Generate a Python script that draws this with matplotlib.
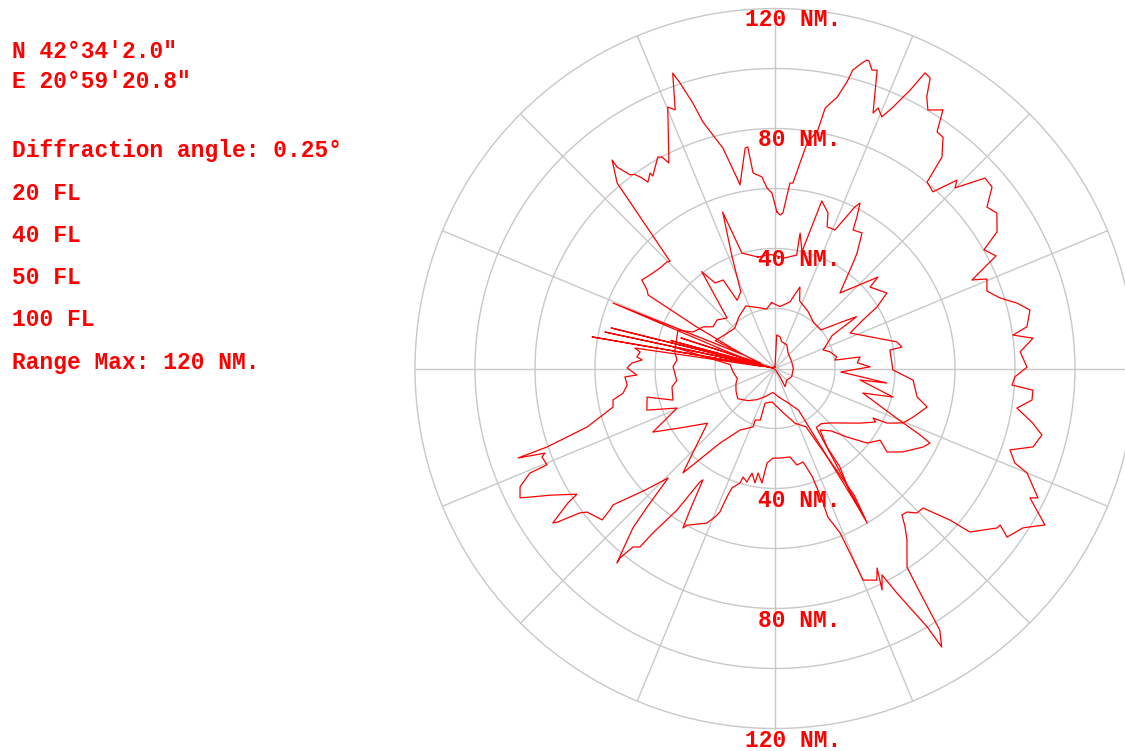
import numpy as np
import matplotlib
matplotlib.use("Agg")
import matplotlib.pyplot as plt

# ---- station and run info ----
lat_text = "N 42°34'2.0\""
lon_text = "E 20°59'20.8\""
diffraction_text = "Diffraction angle: 0.25°"
level_labels = ["20 FL", "40 FL", "50 FL", "100 FL"]
range_max_text = "Range Max: 120 NM."

range_rings = [20, 40, 60, 80, 100, 120]
labelled_rings = [40, 80, 120]
spoke_step = 22.5

# ---- coverage profiles: bearing (deg, clockwise from north) and range (NM) ----
fl20_brg = [0, 2.9, 8.9, 14, 26.5, 41, 67.8, 90, 116, 134.5, 151, 149, 160, 270, 279.0,
            282.1, 283.0, 283.9, 285.0, 359]
fl20_nm = [0.5, 11.2, 10.7, 9.2, 8.8, 6.7, 6.0, 6.1, 6.2, 5.5, 6.9, 3.2, 0.5, 0.5, 1.0,
           58.0, 2.0, 56.3, 1.0, 0.5]

fl40_brg = [357, 4.6, 12.7, 17, 20, 30, 40, 50, 56, 57.6, 60, 69, 73, 79.2, 82, 82.3, 86,
            89, 93, 97.4, 97.7, 103.6, 105.6, 110, 113, 116, 116.8, 118, 122.7, 134.7, 140,
            145, 149, 150.5, 160, 170, 185, 200, 210, 220, 231, 240, 248.6, 255, 265, 275,
            282, 283, 285, 286, 288, 290, 295, 305, 315, 325, 335, 345, 352]
fl40_nm = [22, 20.7, 22.8, 28.4, 24, 22, 20, 20, 28.8, 32.2, 22, 17.2, 19.1, 20.9, 20.2,
           28.6, 27.5, 31.7, 22, 37.6, 28.6, 40.5, 30.4, 38, 46.4, 41.5, 36.6, 38, 33.7,
           25.8, 24, 24, 58, 16, 12, 10, 8, 10, 12, 14, 16, 15, 14, 13, 14, 15,
           35, 3, 36, 3, 33, 5, 22, 20, 19, 21, 23, 21, 20]

fl50_brg = [351.3, 358, 5, 10.8, 10.5, 13, 15.6, 18.8, 20.2, 23.4, 26.3, 27.2, 28.4, 29.4,
            32.7, 35.4, 36.5, 40.7, 48.4, 49.4, 56, 58.9, 61.1, 64.7, 77.7, 80.4, 80.9, 90.7,
            94.8, 101.3, 104.2, 109.4, 113, 114.6, 115.7, 117.9, 123.1, 126.7, 124.3, 129,
            133.6, 138, 143.8, 146.5, 146.6, 148.9, 149.2, 148.0, 152, 160, 170, 185, 196,
            196, 201, 200.6, 209.6, 216.4, 221.4, 231, 238, 242.5, 248, 252, 257.4, 252.8,
            259.8, 263, 271, 275, 279.5, 291.6, 294, 300, 304, 310, 316.5, 322.9, 325, 329.6,
            331, 336, 339, 341.5, 344]
fl50_nm = [37.6, 38, 37, 38.5, 45.9, 40, 58, 54.8, 50.3, 50.3, 60.1, 62, 57.4, 53, 53.7,
           47.2, 43.7, 33.2, 45.9, 41.7, 45, 39.7, 33.5, 27.7, 41.6, 42.9, 38.8, 39.3, 46.2,
           48.3, 52.3, 48.8, 46.4, 53.2, 57.3, 55.9, 50.9, 46.6, 42.4, 39.5, 33.1, 28, 25.4,
           31.4, 39.3, 48.4, 60, 50, 22, 19.4, 14.8, 11.2, 12, 17.9, 18.4, 20.8, 23.6, 30.9,
           46.4, 29, 37.4, 45.9, 35.2, 44.9, 43.7, 35.6, 34.9, 33, 34, 32.8, 33.9, 34.8,
           29.9, 27.7, 24.9, 25.2, 23.2, 40.5, 34.8, 34.2, 26, 28, 40, 55, 40]

fl100_brg = [0.7, 1.9, 2.9, 4.6, 5.5, 8.1, 10.2, 10.9, 12.9, 14.1, 14.6, 15.9, 16.6, 17.0,
             18.0, 18.9, 21.0, 21.6, 23.0, 24.3, 25.9, 26.9, 28.1, 29.2, 30.6, 33.0, 34.4,
             36.0, 38.3, 39.2, 41.8, 44.0, 44.9, 47.8, 50.1, 52.7, 55.0, 58.4, 60.4, 63.0,
             65.8, 67.1, 69.9, 72.6, 74.9, 77.1, 80.6, 82.0, 83.3, 86.1, 89.7, 92.0, 94.0,
             94.8, 97.0, 99.3, 101.8, 104.0, 106.9, 109.1, 111.5, 112.5, 116.2, 116.9, 120.1,
             122.7, 126.0, 124.8, 125.7, 130.0, 130.9, 133.3, 135.5, 137.4, 139.1, 140.6,
             142.4, 146.4, 147.1, 147.8, 149.1, 149.5, 151.5, 152.6, 154.2, 152.9, 154.3,
             157.4, 157.8, 158.4, 160.4, 160.3, 161.0, 163.3, 167.2, 169.0, 170.4, 176.8,
             181.3, 184.8, 186.5, 189.2, 189.9, 192.4, 193.9, 196.4, 197.0, 199.8, 200.5,
             201.0, 202.0, 203.8, 209.3, 210.0, 211.0, 212.9, 213.5, 214.7, 216.6, 217.1,
             218.5, 219.3, 219.1, 220.0, 221.7, 222.7, 224.3, 226.9, 229.9, 229.4, 228.8,
             232.6, 233.5, 234.8, 235.2, 237.0, 237.6, 240.6, 242.3, 243.1, 245.1, 246.9,
             247.1, 249.2, 249.8, 250.8, 251.0, 252.7, 254.5, 256.6, 259.0, 260.8, 263.6,
             266.8, 267.3, 270.2, 272.2, 273.7, 274.8, 277.0, 278.3, 279.3, 279.8, 280.6,
             290.0, 292.0, 293.5, 298.0, 300.1, 301.5, 303.6, 307.0, 311.2, 314.6, 315.6,
             319.6, 322.0, 321.9, 323.2, 324.1, 325.1, 325.7, 327.4, 327.6, 331.0, 331.9,
             332.7, 337.7, 338.9, 340.9, 341.6, 342.8, 343.7, 346.7, 348.7, 349.2, 352.3,
             353.0, 353.6, 356.1, 357.5, 359.0]
fl100_nm = [52.2, 51.2, 51.9, 62.0, 62.1, 75.9, 80.8, 88.4, 92.8, 98.5, 102.8, 105.9, 107.3,
            107.2, 104.6, 105.1, 91.2, 93.4, 91.1, 95.6, 103.2, 110.5, 109.8, 103.7, 100.1,
            102.8, 95.6, 95.3, 89.8, 80.2, 79.0, 87.3, 85.0, 94.5, 94.3, 88.8, 90.3, 86.9,
            80.1, 82.7, 72.0, 76.7, 75.2, 78.6, 83.6, 87.2, 85.1, 80.1, 86.6, 81.9, 84.0,
            80.0, 79.2, 86.3, 86.3, 81.7, 87.5, 91.7, 89.9, 82.9, 85.9, 90.9, 97.7, 95.3,
            104.0, 98.3, 95.6, 91.4, 91.1, 84.8, 77.2, 67.8, 67.5, 65.0, 64.6, 68.3, 72.1,
            79.5, 89.1, 103.1, 108.2, 100.0, 85.2, 77.5, 82.0, 74.7, 78.3, 76.4, 67.9, 59.0,
            52.6, 46.5, 38.0, 32.5, 33.0, 31.2, 29.9, 29.9, 29.9, 31.6, 38.4, 35.3, 38.7,
            35.7, 39.0, 37.7, 39.9, 42.3, 45.7, 51.2, 53.4, 56.3, 59.9, 61.4, 55.0, 44.2,
            45.4, 57.4, 68.3, 74.6, 76.0, 81.6, 83.5, 78.9, 71.2, 62.9, 51.0, 59.3, 70.6,
            72.5, 76.6, 78.8, 80.9, 88.9, 90.2, 82.3, 78.2, 86.0, 92.2, 95.3, 93.7, 88.8,
            82.5, 83.1, 81.7, 90.7, 80.4, 65.6, 60.5, 55.5, 55.0, 51.3, 49.6, 50.1, 46.1,
            49.3, 47.7, 44.4, 46.2, 45.3, 47.2, 4.0, 61.9, 4.0, 20.0, 58.2, 12.0, 30.0,
            48.9, 50.0, 53.3, 52.0, 50.9, 50.6, 50.0, 81.2, 88.2, 85.3, 80.6, 79.9, 77.4,
            75.2, 77.3, 76.0, 80.6, 79.9, 77.1, 94.2, 92.4, 104.2, 100.3, 92.6, 85.6, 75.5,
            64.8, 62.3, 74.2, 74.4, 65.6, 64.0, 60.2, 58.5]

profiles = [(fl20_brg, fl20_nm), (fl40_brg, fl40_nm), (fl50_brg, fl50_nm), (fl100_brg, fl100_nm)]

RED = "#ff0000"
GRID = "#c8c8c8"
FONT = "Liberation Mono"

W, H, DPI = 1125, 751, 100
fig = plt.figure(figsize=(W / DPI, H / DPI), dpi=DPI)
fig.patch.set_facecolor("white")

# polar scope: centre (775, 368.5) px, 120 NM = 360 px
cx, cy, R = 775, 368.5, 360
ax = fig.add_axes([(cx - R) / W, 1 - (cy + R) / H, 2 * R / W, 2 * R / H], projection="polar")
ax.set_theta_zero_location("N")
ax.set_theta_direction(-1)
ax.set_ylim(0, max(range_rings))
ax.set_facecolor("white")
ax.grid(False)
ax.set_xticks([])
ax.set_yticks([])
ax.spines["polar"].set_visible(False)

# range rings and bearing spokes
ring_t = np.linspace(0, 2 * np.pi, 721)
for r in range_rings:
    ax.plot(ring_t, np.full_like(ring_t, r), color=GRID, lw=1.0, zorder=1, clip_on=False)
for b in np.arange(0, 360, spoke_step):
    ax.plot([np.radians(b)] * 2, [0, max(range_rings)], color=GRID, lw=1.0, zorder=1,
            clip_on=False)
ax.plot([0], [0], "o", color=GRID, ms=5, zorder=1)

# coverage curves
for brg, nm in profiles:
    t = np.radians(np.append(brg, brg[0]))
    rr = np.append(nm, nm[0])
    ax.plot(t, rr, color=RED, lw=0.9, zorder=3, clip_on=False)

# ring labels above and below the station
txt_kw = dict(color=RED, fontsize=16.5, fontweight="bold", family=FONT,
              textcoords="offset pixels", ha="right", va="center", annotation_clip=False)
for r in labelled_rings:
    ax.annotate(f"{r} NM.", xy=(0, r), xytext=(66, -11), **txt_kw)
    ax.annotate(f"{r} NM.", xy=(np.pi, r), xytext=(66, -12), **txt_kw)

# info panel
info = [(51, lat_text), (81, lon_text), (151, diffraction_text)]
info += [(193 + 42.2 * i, s) for i, s in enumerate(level_labels)]
info += [(362, range_max_text)]
for y, s in info:
    fig.text(12 / W, 1 - y / H, s, color=RED, fontsize=16.5, fontweight="bold",
             family=FONT, ha="left", va="center")

fig.savefig("out.png", dpi=DPI, facecolor="white")
